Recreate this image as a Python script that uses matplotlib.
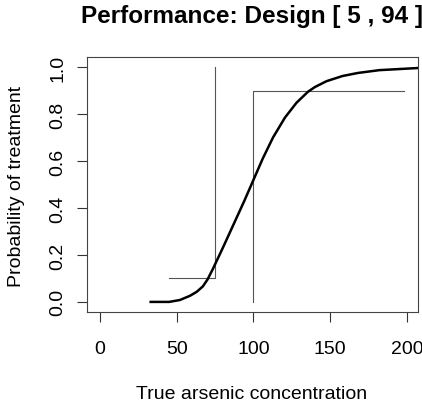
import matplotlib
matplotlib.use("Agg")
import matplotlib.pyplot as plt

plt.rcParams['font.family'] = ['Liberation Sans', 'DejaVu Sans']

# operating characteristic curve
conc = [33, 45, 52, 58.6, 63, 67, 70, 73.5, 80, 87, 94, 100, 106, 112.7,
        120.5, 128, 135.5, 140, 147.6, 158, 168, 182, 207]
prob = [0.0, 0.0, 0.008, 0.026, 0.043, 0.066, 0.095, 0.14, 0.23, 0.33, 0.43, 0.52, 0.61, 0.70,
        0.785, 0.848, 0.895, 0.915, 0.94, 0.962, 0.975, 0.987, 0.996]

# design requirement lines
low_x = [45, 75, 75]
low_y = [0.1, 0.1, 1.0]
high_x = [100, 100, 198]
high_y = [0.0, 0.9, 0.9]

x_ticks = [0, 50, 100, 150, 200]
y_ticks = [0.0, 0.2, 0.4, 0.6, 0.8, 1.0]
y_labels = ['0.0', '0.2', '0.4', '0.6', '0.8', '1.0']

W, H = 422, 402
fig = plt.figure(figsize=(W / 100, H / 100), dpi=100)
ax = fig.add_axes([87 / W, 1 - 313 / H, (418 - 87) / W, (313 - 58) / H])

ax.plot(low_x, low_y, color='#555555', lw=0.8)
ax.plot(high_x, high_y, color='#555555', lw=0.8)
ax.plot(conc, prob, color='black', lw=1.8, solid_joinstyle='round')

ax.set_xlim(-8.5, 207.2)
ax.set_ylim(-0.043, 1.043)
ax.set_xticks(x_ticks)
ax.set_yticks(y_ticks)
ax.set_yticklabels(y_labels)

for s in ax.spines.values():
    s.set_color('#444444')
    s.set_linewidth(0.8)

ax.tick_params(axis='x', length=7, width=0.8, pad=13, labelsize=14, color='#333333')
ax.tick_params(axis='y', length=7, width=0.8, pad=8, labelsize=14, color='#333333',
               labelrotation=90)
plt.setp(ax.get_yticklabels(), va='center')

fig.text(252 / W, 1 - 23 / H, 'Performance: Design [ 5 , 94 ]', ha='center',
         va='baseline', fontsize=17.5, fontweight='bold')
fig.text(252 / W, 1 - 399 / H, 'True arsenic concentration', ha='center',
         va='baseline', fontsize=14)
fig.text(17 / W, 1 - 186 / H, 'Probability of treatment', ha='center',
         va='center', rotation=90, fontsize=14)

fig.savefig('out.png', dpi=100)
